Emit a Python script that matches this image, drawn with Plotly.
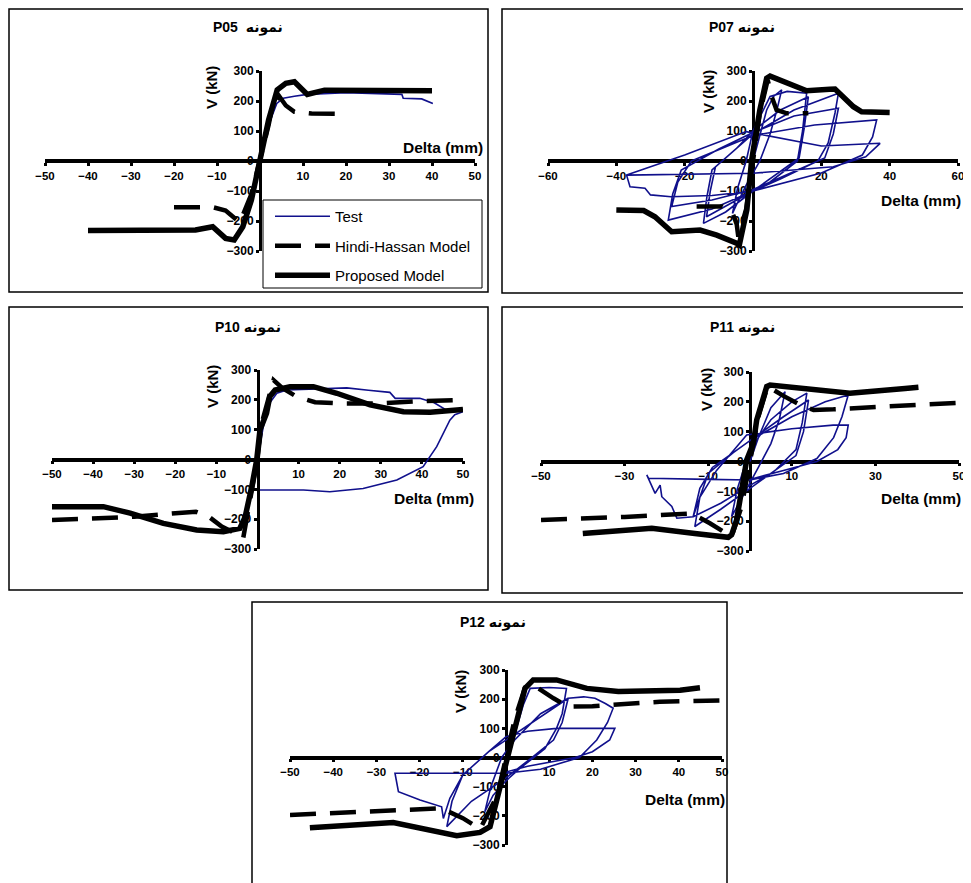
import plotly.graph_objects as go

W, H = 971, 883
OFF = 8  # page body margin compensation
FONT = "Arial, Liberation Sans, DejaVu Sans, sans-serif"
BLUE = "#10108c"

# ---------------- data ----------------
# P05
p05_test_x = [0, 2, 3.9, 5.4, 8, 11, 20, 33, 33.3, 37.6, 40.2]
p05_test_y = [0, 120, 192, 209, 216, 222, 228, 222, 209, 207, 192]
p05_hh_x = [-20, -11, -8, -6.2, -4.7, -2, 0, 2, 3, 4.5, 6, 8, 12, 20]
p05_hh_y = [-154, -154, -165, -186, -205, -110, 0, 120, 190, 215, 185, 164, 158, 157]
p05_pm_x = [-40, -15, -11, -8, -6, -4, -2, 0, 2, 4, 6, 8, 10, 11, 15, 25, 40]
p05_pm_y = [-232, -230, -219, -258, -263, -219, -130, 0, 137, 237, 259, 264, 237, 222, 236, 235, 234]

# P07
p07_test_x = [0, 2, 4, 6, 8.4, 7, 5, 2, -2, -5, -6,
              -4.5, -2, 0, 5, 10, 15.7,
              14.5, 13, 5, 0, -8, -14.5,
              -13.5, -12, -5, 0,
              8, 16.2, 15, 13.5, 0, -13.6,
              -12.5, -11, 0,
              12, 25, 24, 22, 19, 8, 0, -12, -24.8,
              -23.5, -21, -10, 0, 12, 25,
              23.5, 21, 0, -12, -23.8,
              -22, -18, 0, 18, 36.2,
              35, 32, 20, 0, -12, -24, -30, -31.6, -36, -37,
              -20, -2, 20, 37.2, 33, 23.5, 0, -37]
p07_test_y = [0, 90, 170, 215, 237, 170, 90, 0, -80, -150, -175,
              -90, 0, 100, 215, 232, 226,
              100, 0, -70, -100, -170, -208,
              -120, -30, 40, 100,
              170, 214, 110, 10, -100, -186,
              -100, -20, 90,
              170, 226, 160, 60, 0, -60, -100, -160, -197,
              -110, -30, 40, 95, 150, 176,
              90, 10, -95, -130, -152,
              -70, 0, 85, 120, 137,
              80, 20, -40, -100, -115, -119, -113, -91, -86, -47,
              20, 98, 50, 59, 14, -19, -41, -47]
p07_hh_x = [-16.5, -9, -6.2, -4.8, -4.3, -2, 0, 2, 4.3, 5.5, 6.9, 9.9, 16.2]
p07_hh_y = [-152, -152, -169, -208, -252, -160, 0, 160, 270, 214, 170, 159, 159]
p07_pm_x = [-40, -32, -28.7, -23.8, -15.5, -10.6, -4.8, -4, -1.8, -0.4, 2, 4, 5, 13.8, 15.7, 22.5, 24, 29.4, 31.8, 40]
p07_pm_y = [-163, -165, -186, -236, -230, -247, -274, -280, -163, 3, 170, 276, 283, 242, 234, 239, 240, 181, 164, 162]

# P10
p10_test_x = [0, 1.4, 3, 4.7, 7.1, 12, 17.6, 21.7, 27, 32.2, 33.5, 39.5, 43, 46, 48.5, 50,
              48, 46.8, 43.6, 40.3, 33.9, 25.7, 17.6, 11.2, 6.3, 0.6]
p10_test_y = [0, 110, 190, 222, 233, 236, 238, 240, 232, 225, 205, 205, 190, 165, 166, 160,
              150, 132, 43, -24, -69, -97, -108, -102, -102, -102]
p10_hh_x = [-50, -40, -30, -20, -15, -12, -8.7, -5, -3.5, -2, 0, 1, 3.9, 6, 9.5, 14, 20, 30, 40, 50]
p10_hh_y = [-203, -198, -192, -180, -175, -190, -225, -250, -265, -150, 0, 120, 266, 240, 211, 192, 188, 188, 196, 200]
p10_pm_x = [-50, -37.5, -31, -22.9, -14.8, -8.3, -4.3, -3, -1.4, -0.2, 0.6, 2.2, 3, 4.3, 7.9, 13.6, 19.3, 27.4, 35.5, 42, 50]
p10_pm_y = [-158, -158, -180, -214, -236, -242, -231, -192, -91, -2, 99, 155, 211, 233, 244, 244, 222, 183, 160, 158, 168]

# P11
p11_test_x = [0, 2, 5, 8.4, 7, 5, 2, -2, -4.4,
              -3, -1, 0, 5, 10, 13.6,
              12.5, 11, 6, 0, -7, -13.2,
              -12, -10, -4, 0, 8, 14,
              12.8, 11, 5, 0, -7, -13.6,
              -12, -9, -2, 0, 10, 18, 23.5,
              22, 20, 16, 8, 0, -10, -24.3,
              -24.7, -23.5, -22.7, -21.5, -21.1, -18.7, -17.5, -13.6,
              -12, -8, -0.8, 10, 19.9, 23.5,
              23, 21, 16, 8, 0]
p11_test_y = [0, 80, 180, 234, 140, 60, -20, -120, -185,
              -90, 0, 40, 140, 200, 229,
              130, 40, -30, -90, -160, -218,
              -120, -40, 30, 70, 150, 206,
              100, 20, -40, -80, -140, -185,
              -90, -20, 50, 70, 150, 200, 223,
              150, 80, 10, -40, -62, -60, -56,
              -45, -85, -107, -79, -118, -151, -190, -185,
              -120, -30, 89, 110, 122, 122,
              80, 40, 0, -30, -60]
p11_hh_x = [-50, -30, -14, -9.6, -4.4, -2, 0, 2, 4.2, 8, 12.8, 15.2, 20, 29, 40, 50]
p11_hh_y = [-196, -186, -174, -207, -252, -150, 0, 150, 252, 220, 184, 173, 175, 183, 190, 197]
p11_pm_x = [-40, -23.5, -13.2, -5.2, -4.4, -3.2, -0.8, 0.8, 1.6, 4, 4.8, 13.6, 23.9, 37.1, 40.3]
p11_pm_y = [-241, -224, -241, -254, -246, -196, 5, 61, 139, 251, 256, 245, 229, 245, 249]

# P12
p12_test_x = [0, 2, 4, 5.6, 10, 14, 13, 11.7, 9, 3, 0, -3, -4.9,
              -3.5, -1, 2, 8, 14.4, 13, 11, 6, 0, -8, -13.7,
              -12.5, -10, -4, 0, 7, 14.4, 18, 20.6, 23, 24.8,
              23.5, 21, 17, 8, 0, -10, -25.7, -24.9, -19.9, -14.9, -14.5,
              -13, -10, -4, 0, 5, 11.7, 25.2, 24, 20, 16, 5, 0]
p12_test_y = [0, 80, 180, 237, 240, 237, 150, 100, 30, -40, -80, -130, -186,
              -100, 0, 60, 150, 203, 120, 60, 0, -70, -150, -237,
              -150, -60, 20, 60, 130, 203, 208, 203, 185, 169,
              120, 60, 0, -40, -54, -54, -54, -117, -146, -169, -209,
              -140, -60, 20, 71, 90, 100, 100, 60, 20, 0, -30, -50]
p12_hh_x = [-50, -20, -15, -10, -6, -2, 0, 2, 4.4, 6.3, 11, 14.4, 20, 35.6, 50]
p12_hh_y = [-197, -174, -174, -208, -245, -130, 0, 130, 240, 249, 203, 174, 176, 191, 196]
p12_pm_x = [-45.4, -26.1, -11.4, -6, -3.7, -1.4, 0.9, 3.2, 4.4, 6.3, 11.7, 18.7, 26, 40.3, 44.9]
p12_pm_y = [-241, -223, -268, -257, -237, -106, 31, 157, 237, 266, 266, 237, 226, 231, 239]

y_ticks = [-300, -200, -100, 0, 100, 200, 300]
x_ticks_50 = [-50, -40, -30, -20, -10, 10, 20, 30, 40, 50]
x_ticks_60 = [-60, -40, -20, 20, 40, 60]
x_ticks_odd = [-50, -30, -10, 10, 30, 50]

titles = ["P05  نمونه", "P07 نمونه", "P10 نمونه", "P11 نمونه", "P12 نمونه"]
legend_names = ["Test", "Hindi-Hassan Model", "Proposed Model"]

# ---------------- layout geometry (pixels, in screenshot coordinates) ----------------
panels = [
    dict(title=titles[0], xr=[-50, 50], xt=x_ticks_50, xpx=[45, 475], ypx=[71, 251], zy=161, zx=260,
         box=[9, 9, 488, 292], tpos=(248, 27), vpos=(212, 88), dpos=(443, 147),
         test=(p05_test_x, p05_test_y), hh=(p05_hh_x, p05_hh_y), pm=(p05_pm_x, p05_pm_y)),
    dict(title=titles[1], xr=[-60, 60], xt=x_ticks_60, xpx=[548, 958], ypx=[71, 251], zy=161, zx=753,
         box=[502, 9, 985, 293], tpos=(742, 27), vpos=(708, 92), dpos=(921, 200),
         test=(p07_test_x, p07_test_y), hh=(p07_hh_x, p07_hh_y), pm=(p07_pm_x, p07_pm_y)),
    dict(title=titles[2], xr=[-50, 50], xt=x_ticks_50, xpx=[52, 463], ypx=[370, 549], zy=459.5, zx=257.5,
         box=[9, 307, 488, 590], tpos=(248, 327), vpos=(212, 387), dpos=(434, 498),
         test=(p10_test_x, p10_test_y), hh=(p10_hh_x, p10_hh_y), pm=(p10_pm_x, p10_pm_y)),
    dict(title=titles[3], xr=[-50, 50], xt=x_ticks_odd, xpx=[541, 959], ypx=[372, 551], zy=461.5, zx=750,
         box=[502, 307, 985, 593], tpos=(742, 327), vpos=(707, 390), dpos=(921, 498),
         test=(p11_test_x, p11_test_y), hh=(p11_hh_x, p11_hh_y), pm=(p11_pm_x, p11_pm_y)),
    dict(title=titles[4], xr=[-50, 50], xt=x_ticks_50, xpx=[290, 722], ypx=[670, 845], zy=757.5, zx=506,
         box=[252, 602, 727, 895], tpos=(493, 622), vpos=(460, 692), dpos=(685, 799),
         test=(p12_test_x, p12_test_y), hh=(p12_hh_x, p12_hh_y), pm=(p12_pm_x, p12_pm_y)),
]


def fx(p):
    return (p - OFF) / W


def fy(p):
    return 1 - (p - OFF) / H


fig = go.Figure()
layout = dict(template="none", width=W, height=H, margin=dict(l=0, r=0, t=0, b=0, pad=0, autoexpand=False),
              paper_bgcolor="white", plot_bgcolor="rgba(0,0,0,0)",
              font=dict(family=FONT, color="black"))
annotations = []
shapes = []

for i, p in enumerate(panels):
    n = i + 1
    sx = "" if n == 1 else str(n)
    xa, ya = "x" + sx, "y" + sx
    first = (n == 1)
    tx, ty = p["test"]
    hx, hy = p["hh"]
    mx, my = p["pm"]
    fig.add_trace(go.Scatter(x=tx, y=ty, mode="lines", name=legend_names[0], legendgroup="a",
                             line=dict(color=BLUE, width=1.6), showlegend=first, xaxis=xa, yaxis=ya,
                             hoverinfo="skip"))
    fig.add_trace(go.Scatter(x=hx, y=hy, mode="lines", name=legend_names[1], legendgroup="b",
                             line=dict(color="black", width=4.5, dash="26px,14px"), showlegend=first,
                             xaxis=xa, yaxis=ya, hoverinfo="skip"))
    fig.add_trace(go.Scatter(x=mx, y=my, mode="lines", name=legend_names[2], legendgroup="c",
                             line=dict(color="black", width=5.5), showlegend=first,
                             xaxis=xa, yaxis=ya, hoverinfo="skip"))
    layout["xaxis" + sx] = dict(domain=[fx(p["xpx"][0]), fx(p["xpx"][1])], range=p["xr"],
                                anchor="free", position=fy(p["zy"]), showline=True, linewidth=3.5,
                                linecolor="black", ticks="outside", ticklen=3, tickwidth=3,
                                tickcolor="black", tickvals=p["xt"], showgrid=False, zeroline=False,
                                tickfont=dict(family=FONT, size=11.5, color="black", weight="bold"),
                                layer="below traces", fixedrange=True, automargin=False)
    layout["yaxis" + sx] = dict(domain=[fy(p["ypx"][1]), fy(p["ypx"][0])], range=[-300, 300],
                                anchor="free", position=fx(p["zx"]), showline=True, linewidth=3,
                                linecolor="black", ticks="outside", ticklen=3, tickwidth=3,
                                tickcolor="black", tickvals=y_ticks, showgrid=False, zeroline=False,
                                tickfont=dict(family=FONT, size=12, color="black", weight="bold"),
                                layer="below traces", fixedrange=True, automargin=False)
    b = p["box"]
    shapes.append(dict(type="rect", xref="paper", yref="paper", x0=fx(b[0]), x1=fx(b[2]),
                       y0=fy(b[3]), y1=fy(b[1]), line=dict(color="black", width=1.5), layer="below"))
    annotations.append(dict(text="<b>" + p["title"] + "</b>", x=fx(p["tpos"][0]), y=fy(p["tpos"][1]),
                            xref="paper", yref="paper", showarrow=False, xanchor="center", yanchor="middle",
                            font=dict(family=FONT, size=14, color="black")))
    annotations.append(dict(text="<b>V (kN)</b>", x=fx(p["vpos"][0]), y=fy(p["vpos"][1]),
                            xref="paper", yref="paper", showarrow=False, textangle=-90,
                            xanchor="center", yanchor="middle",
                            font=dict(family=FONT, size=15, color="black")))
    annotations.append(dict(text="<b>Delta (mm)</b>", x=fx(p["dpos"][0]), y=fy(p["dpos"][1]),
                            xref="paper", yref="paper", showarrow=False, xanchor="center", yanchor="middle",
                            font=dict(family=FONT, size=15.5, color="black")))

# legend frame
shapes.append(dict(type="rect", xref="paper", yref="paper", x0=fx(263), x1=fx(482), y0=fy(288), y1=fy(200),
                   line=dict(color="black", width=1), fillcolor="white", layer="above"))

layout["shapes"] = shapes
layout["annotations"] = annotations
layout["showlegend"] = True
layout["legend"] = dict(x=fx(270), y=fy(200), xanchor="left", yanchor="top", bgcolor="rgba(0,0,0,0)",
                        borderwidth=0, font=dict(family=FONT, size=15, color="black"),
                        tracegroupgap=7, itemwidth=55, itemclick=False, itemdoubleclick=False)
fig.update_layout(**layout)
fig.write_html("out.html")
